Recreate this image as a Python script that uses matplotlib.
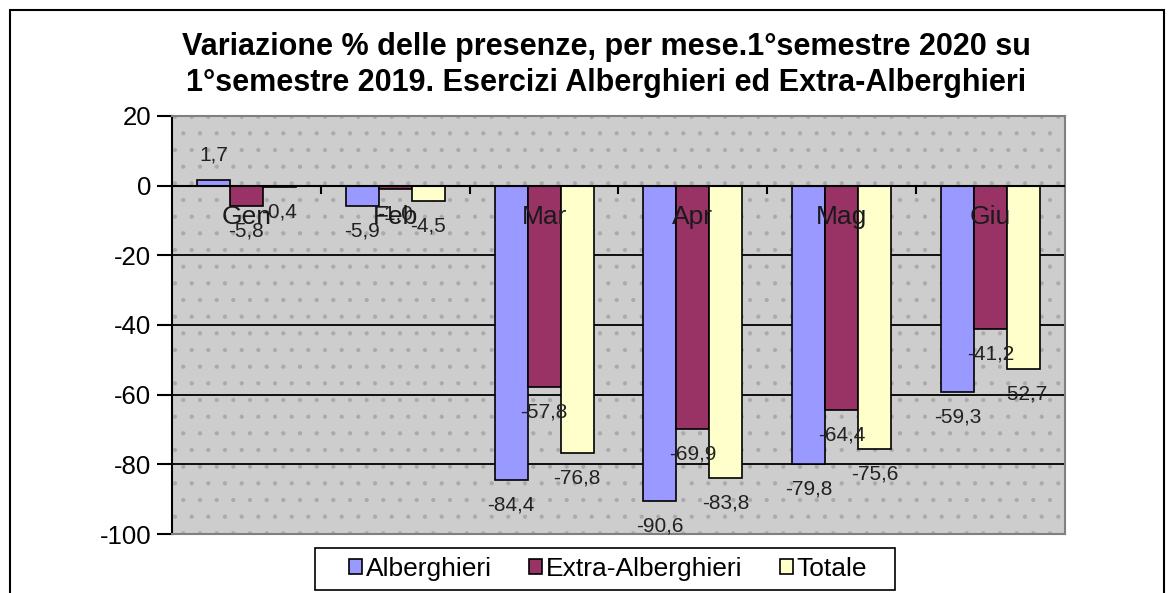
import matplotlib
matplotlib.use("Agg")
import matplotlib.pyplot as plt
from matplotlib.patches import Rectangle, Patch
import numpy as np

plt.rcParams['font.family'] = ['Liberation Sans', 'DejaVu Sans']
plt.rcParams['hatch.color'] = '#aaaaaa'
plt.rcParams['hatch.linewidth'] = 0.6

categories = ["Gen", "Feb", "Mar", "Apr", "Mag", "Giu"]
alberghieri = [1.7, -5.9, -84.4, -90.6, -79.8, -59.3]
extra_alberghieri = [-5.8, -1.0, -57.8, -69.9, -64.4, -41.2]
totale = [-0.4, -4.5, -76.8, -83.8, -75.6, -52.7]
series_names = ["Alberghieri", "Extra-Alberghieri", "Totale"]
series_colors = ["#9999FF", "#993366", "#FFFFCC"]
yticks = [20, 0, -20, -40, -60, -80, -100]
title = ("Variazione % delle presenze, per mese.1°semestre 2020 su\n"
         "1°semestre 2019. Esercizi Alberghieri ed Extra-Alberghieri")

W, H = 1174, 593
fig = plt.figure(figsize=(W / 100, H / 100), dpi=100)

# outer chart frame
fig.patches.append(Rectangle((10 / W, -0.05), (1164 - 10) / W, 1 - 10 / H + 0.05,
                             transform=fig.transFigure, fill=False,
                             edgecolor="black", linewidth=1.5))

left, right, top, bottom = 172, 1065, 116, 534
ax = fig.add_axes([left / W, 1 - bottom / H, (right - left) / W, (bottom - top) / H])
ax.set_facecolor("#cdcdcd")
# dotted texture of the plot area
ax.add_patch(Rectangle((0, 0), 1, 1, transform=ax.transAxes, facecolor="none",
                       edgecolor="#aaaaaa", hatch=".", linewidth=0, zorder=0))

x = np.arange(len(categories))
bw = 0.222
all_series = [alberghieri, extra_alberghieri, totale]
for k, (vals, col) in enumerate(zip(all_series, series_colors)):
    xs = x + (k - 1) * bw
    ax.bar(xs, vals, width=bw, color=col, edgecolor="black", linewidth=1.2, zorder=3)
    for xi, v in zip(xs, vals):
        off = 25 if v >= 0 else -25
        ax.annotate(f"{v:.1f}".replace(".", ","), (xi, v), xytext=(0, off),
                    textcoords="offset pixels", ha="center", va="center",
                    fontsize=15, color="#222222", zorder=5)

ax.set_xlim(-0.5, len(categories) - 0.5)
ax.set_ylim(-100, 20)
ax.set_yticks(yticks)
ax.set_yticklabels([str(t) for t in yticks], fontsize=18.5)
ax.tick_params(axis="y", direction="out", length=11, width=1.5, pad=4, color="black")
ax.set_xticks([])

for g in [-20, -40, -60, -80]:
    ax.axhline(g, color="black", linewidth=1.3, zorder=1)
ax.axhline(0, color="black", linewidth=1.5, zorder=4)
# category boundary ticks on the zero axis
for b in np.arange(0.5, len(categories) - 0.5, 1.0):
    ax.plot([b, b], [0, -2.2], color="black", linewidth=1.5, zorder=4)

for i, c in enumerate(categories):
    ax.annotate(c, (i, 0), xytext=(0, -31), textcoords="offset pixels",
                ha="center", va="center", fontsize=19, color="#1a1a1a", zorder=6)

for s in ["top", "right", "bottom"]:
    ax.spines[s].set_color("#808080")
    ax.spines[s].set_linewidth(1.5)
ax.spines["left"].set_color("black")
ax.spines["left"].set_linewidth(1.5)

fig.text(606 / W, 1 - 65 / H, title, ha="center", va="center", fontsize=22,
         fontweight="bold", linespacing=1.3)

# legend box
fig.patches.append(Rectangle((315 / W, 1 - 590 / H), (895 - 315) / W, 42 / H,
                             transform=fig.transFigure, facecolor="white",
                             edgecolor="black", linewidth=1.2, zorder=5))
handles = [Patch(facecolor=c, edgecolor="black", linewidth=1.2) for c in series_colors]
leg = fig.legend(handles, series_names, ncol=3, loc="center",
                 bbox_to_anchor=(608 / W, 1 - 569 / H), fontsize=19,
                 frameon=False,
                 handlelength=0.5, handleheight=0.5, handletextpad=0.15,
                 columnspacing=1.4, borderpad=0.25)
leg.set_zorder(6)

fig.savefig("out.png", dpi=100)
